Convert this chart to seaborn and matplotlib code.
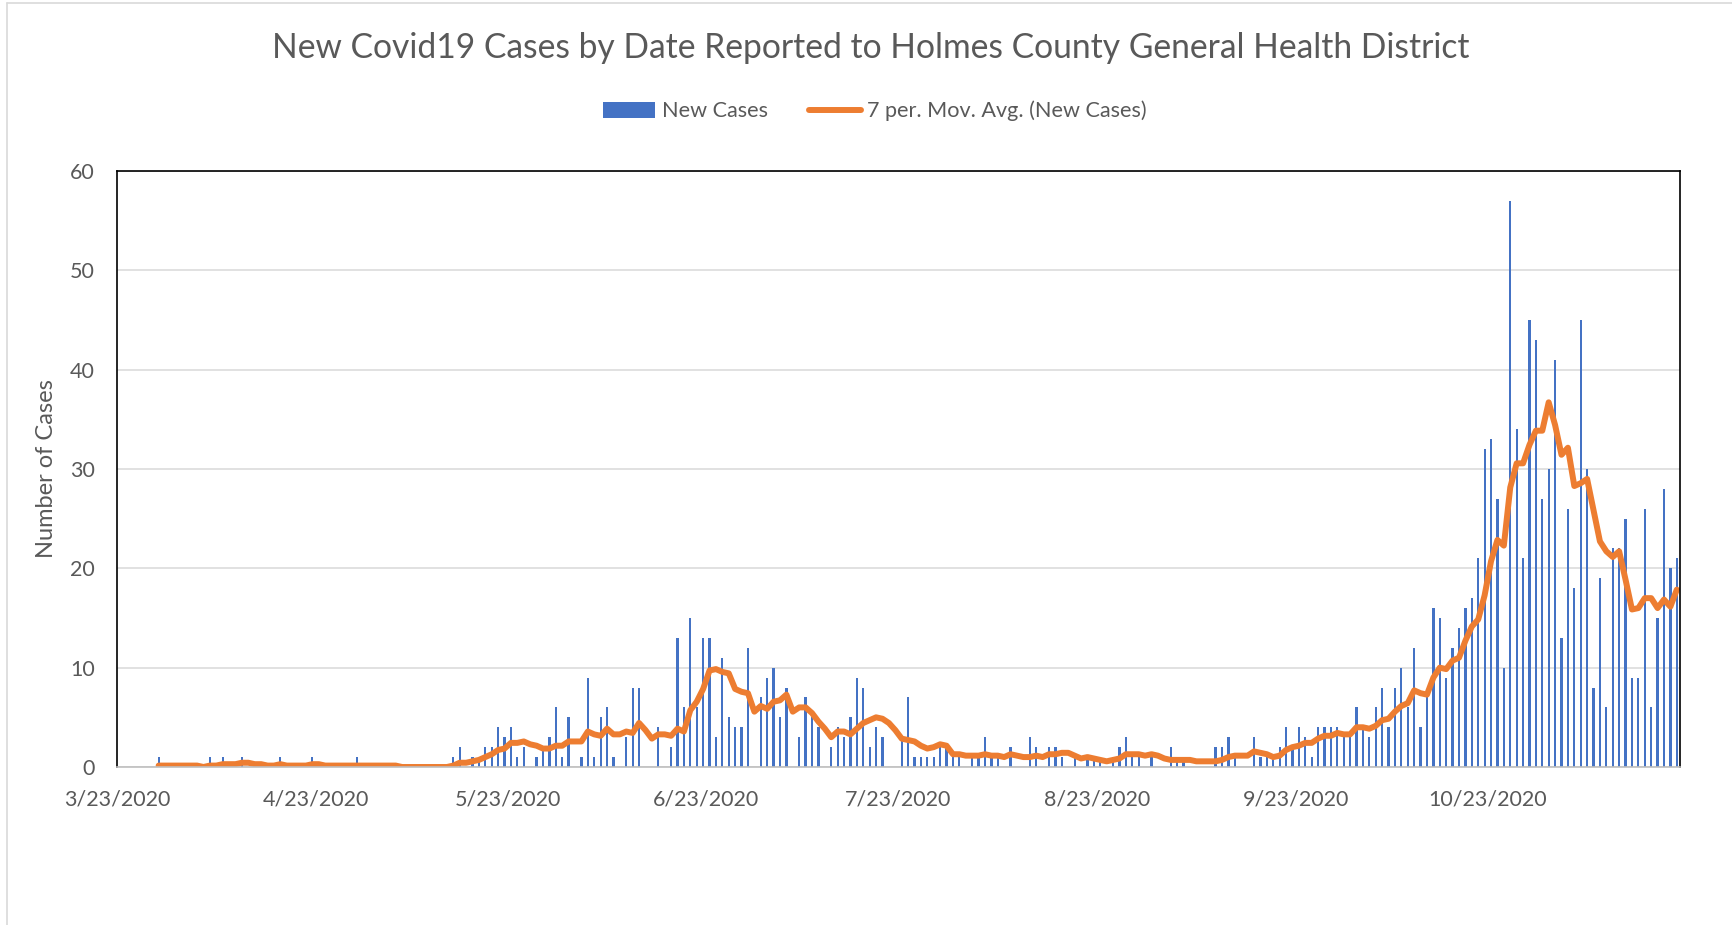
"""
New Covid19 cases by report date, Holmes County General Health District.
Daily counts as bars plus a 7-day trailing moving average line.
"""

import matplotlib

matplotlib.use("Agg")

import matplotlib.pyplot as plt
import numpy as np
import pandas as pd
import seaborn as sns
from matplotlib.lines import Line2D
from matplotlib.patches import Patch

# Daily new cases, one list per month (first day 3/23/2020, last day 11/21/2020)
START_DATE = "2020-03-23"
march_cases = [0, 0, 0, 0, 0, 0, 1, 0, 0]
april_cases = [0, 0, 0, 0, 0, 1, 0, 1, 0, 0, 1, 0, 0, 0, 0,
               0, 1, 0, 0, 0, 0, 1, 0, 0, 0, 0, 0, 0, 1, 0]
may_cases = [0, 0, 0, 0, 0, 0, 0, 0, 0, 0, 0, 0, 0, 1, 2, 0,
             1, 1, 2, 2, 4, 3, 4, 1, 2, 0, 1, 2, 3, 6, 1]
june_cases = [5, 0, 1, 9, 1, 5, 6, 1, 0, 3, 8, 8, 0, 0, 4,
              0, 2, 13, 6, 15, 6, 13, 13, 3, 11, 5, 4, 4, 12, 0]
july_cases = [7, 9, 10, 5, 8, 0, 3, 7, 5, 4, 0, 2, 4, 3, 5, 9,
              8, 2, 4, 3, 0, 0, 3, 7, 1, 1, 1, 1, 2, 2, 1]
august_cases = [1, 0, 1, 1, 3, 1, 1, 0, 2, 0, 0, 3, 2, 0, 2, 2,
                1, 0, 1, 0, 1, 1, 1, 0, 1, 2, 3, 1, 1, 0, 1]
september_cases = [0, 0, 2, 1, 1, 0, 0, 0, 0, 2, 2, 3, 1, 0, 0,
                   3, 1, 1, 1, 2, 4, 2, 4, 3, 1, 4, 4, 4, 4, 3]
october_cases = [3, 6, 4, 3, 6, 8, 4, 8, 10, 6, 12, 4, 7, 16, 15, 9,
                 12, 14, 16, 17, 21, 32, 33, 27, 10, 57, 34, 21, 45, 43, 27]
november_cases = [30, 41, 13, 26, 18, 45, 30, 8, 19, 6, 22,
                  22, 25, 9, 9, 26, 6, 15, 28, 20, 21]

TITLE = "New Covid19 Cases by Date Reported to Holmes County General Health District"
BAR_LABEL = "New Cases"
LINE_LABEL = "7 per. Mov. Avg. (New Cases)"
Y_LABEL = "Number of Cases"

BAR_COLOR = "#4472C4"
LINE_COLOR = "#ED7D31"
TEXT_COLOR = "#595959"
GRID_COLOR = "#D9D9D9"
AXIS_COLOR = "#BFBFBF"
FONT = ["Lato", "DejaVu Sans"]


def build_frame():
    cases = (march_cases + april_cases + may_cases + june_cases + july_cases
             + august_cases + september_cases + october_cases + november_cases)
    df = pd.DataFrame({
        "date": pd.date_range(START_DATE, periods=len(cases), freq="D"),
        "cases": cases,
    })
    df["day"] = np.arange(len(df))
    # Excel-style trailing moving average (first value on the 7th day)
    df["ma7"] = df["cases"].rolling(7).mean()
    return df


def main():
    df = build_frame()

    sns.set_style("white")
    plt.rcParams["font.family"] = FONT

    W, H = 1732, 925
    fig = plt.figure(figsize=(W / 100, H / 100), dpi=100)
    left, right, top, bottom = 117, 1680, 171, 767
    ax = fig.add_axes([left / W, 1 - bottom / H, (right - left) / W, (bottom - top) / H])

    sns.barplot(
        data=df, x="day", y="cases", native_scale=True, color=BAR_COLOR,
        saturation=1, width=0.35, errorbar=None, linewidth=0, ax=ax,
    )
    sns.lineplot(
        data=df, x="day", y="ma7", color=LINE_COLOR, linewidth=4.3,
        solid_capstyle="round", solid_joinstyle="round", ax=ax,
    )

    n = len(df)
    ax.set_xlim(-0.5, n - 0.5)
    ax.set_ylim(0, 60)
    ax.set_yticks(range(0, 61, 10))

    ticks = df[df["date"].dt.day == 23]
    ax.set_xticks(ticks["day"] - 0.5)
    ax.set_xticklabels([f"{d.month}/{d.day}/{d.year}" for d in ticks["date"]])

    ax.set_xlabel("")
    ax.set_ylabel("")
    ax.yaxis.grid(True, color=GRID_COLOR, linewidth=1.1)
    ax.xaxis.grid(False)
    ax.set_axisbelow(True)

    for side in ["left", "top", "right"]:
        ax.spines[side].set_color("black")
        ax.spines[side].set_linewidth(1.2)
    ax.spines["bottom"].set_color(AXIS_COLOR)
    ax.spines["bottom"].set_linewidth(1.2)

    ax.tick_params(axis="x", length=4, width=1.1, color=AXIS_COLOR, pad=12,
                   labelsize=15.5, labelcolor=TEXT_COLOR)
    ax.tick_params(axis="y", length=0, pad=16, labelsize=15.5, labelcolor=TEXT_COLOR)

    fig.text(47 / W, 1 - 469 / H, Y_LABEL, rotation=90, ha="center", va="center",
             fontsize=17, color=TEXT_COLOR)
    fig.text(871 / W, 1 - 58 / H, TITLE, ha="center", va="baseline",
             fontsize=24.2, color=TEXT_COLOR)

    handles = [
        Patch(facecolor=BAR_COLOR, edgecolor="none"),
        Line2D([], [], color=LINE_COLOR, linewidth=4.3, solid_capstyle="round"),
    ]
    fig.legend(
        handles, [BAR_LABEL, LINE_LABEL], loc="center", ncol=2, frameon=False,
        bbox_to_anchor=(875 / W, 1 - 111 / H), fontsize=15.6, labelcolor=TEXT_COLOR,
        handlelength=2.4, handleheight=0.75, handletextpad=0.3, columnspacing=1.9,
    )

    # light chart-area border (left and top edges visible in the crop)
    fig.add_artist(Line2D([7 / W, 7 / W], [0, 1 - 2.5 / H], color=GRID_COLOR,
                          linewidth=1.2, transform=fig.transFigure))
    fig.add_artist(Line2D([7 / W, 1], [1 - 2.5 / H, 1 - 2.5 / H], color=GRID_COLOR,
                          linewidth=1.2, transform=fig.transFigure))

    fig.savefig("out.png", dpi=100)


if __name__ == "__main__":
    main()
